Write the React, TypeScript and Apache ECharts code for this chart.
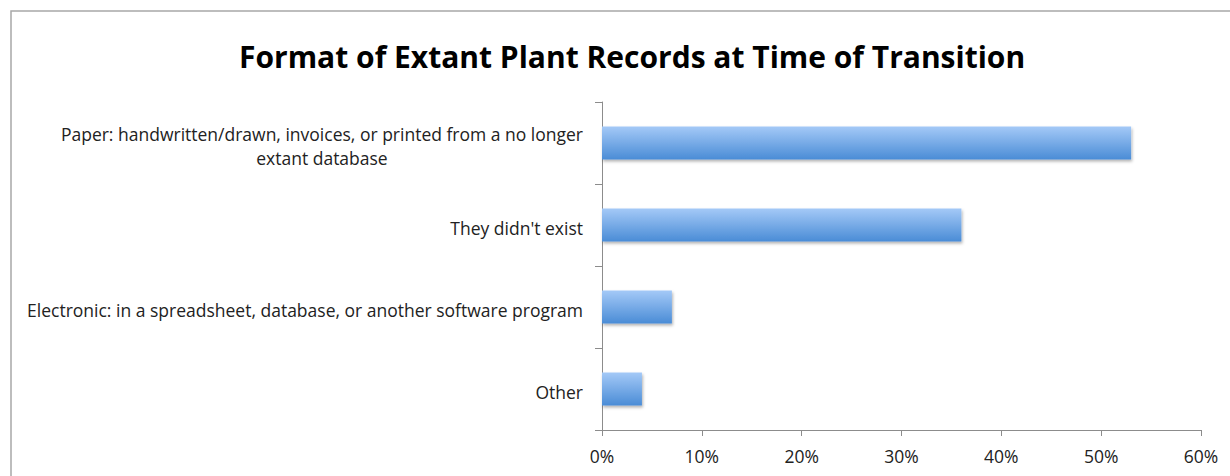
import React, { useEffect, useRef } from "react";
import * as echarts from "echarts";

const categories = [
  "Paper: handwritten/drawn, invoices, or printed from a no longer\nextant database",
  "They didn't exist",
  "Electronic: in a spreadsheet, database, or another software program",
  "Other",
];
const values = [53, 36, 7, 4];
const titleText = "Format of Extant Plant Records at Time of Transition";

export default function App() {
  const ref = useRef<HTMLDivElement>(null);
  useEffect(() => {
    if (!ref.current) return;
    const chart = echarts.init(ref.current, null, { renderer: "svg" });
    const font = "Open Sans";
    chart.setOption({
      animation: false,
      backgroundColor: "#ffffff",
      title: {
        text: titleText,
        left: 234,
        top: 36,
        textStyle: { fontFamily: font, fontWeight: "bold", fontSize: 30, color: "#000000" },
      },
      graphic: [
        {
          type: "rect",
          shape: { x: 11, y: 11, width: 1400, height: 700 },
          style: { fill: "none", stroke: "#a8a8a8", lineWidth: 1.5 },
          silent: true,
        },
      ],
      grid: { left: 602, right: 29, top: 102, bottom: 46 },
      xAxis: {
        type: "value",
        min: 0,
        max: 60,
        interval: 10,
        axisLine: { show: true, lineStyle: { color: "#8c8c8c", width: 1 } },
        axisTick: { show: true, length: 6, lineStyle: { color: "#8c8c8c" } },
        splitLine: { show: false },
        axisLabel: {
          formatter: "{value}%",
          fontFamily: font,
          fontSize: 17.5,
          color: "#222222",
          margin: 17,
        },
      },
      yAxis: {
        type: "category",
        inverse: true,
        data: categories,
        axisLine: { show: true, lineStyle: { color: "#8c8c8c", width: 1 } },
        axisTick: { show: true, length: 7, lineStyle: { color: "#8c8c8c" } },
        axisLabel: {
          fontFamily: font,
          fontSize: 17.5,
          color: "#222222",
          margin: 19,
          lineHeight: 24,
          padding: [6, 0, 0, 0],
          formatter: (v: string) =>
            v
              .split("\n")
              .map((l) => "{c|" + l + "}")
              .join("\n"),
          rich: {
            c: { align: "center", fontFamily: font, fontSize: 17.5, color: "#222222", lineHeight: 24 },
          },
        },
      },
      series: [
        {
          type: "bar",
          data: values,
          barWidth: 33,
          itemStyle: {
            color: new echarts.graphic.LinearGradient(0, 0, 0, 1, [
              { offset: 0, color: "#a4c9f7" },
              { offset: 1, color: "#4a8cd6" },
            ]),
            shadowColor: "rgba(0,0,0,0.3)",
            shadowBlur: 3,
            shadowOffsetX: 1,
            shadowOffsetY: 2,
          },
        },
      ],
    });
    return () => chart.dispose();
  }, []);
  return (
    <div
      ref={ref}
      style={{ position: "fixed", left: 0, top: 0, width: 1230, height: 476 }}
    />
  );
}
